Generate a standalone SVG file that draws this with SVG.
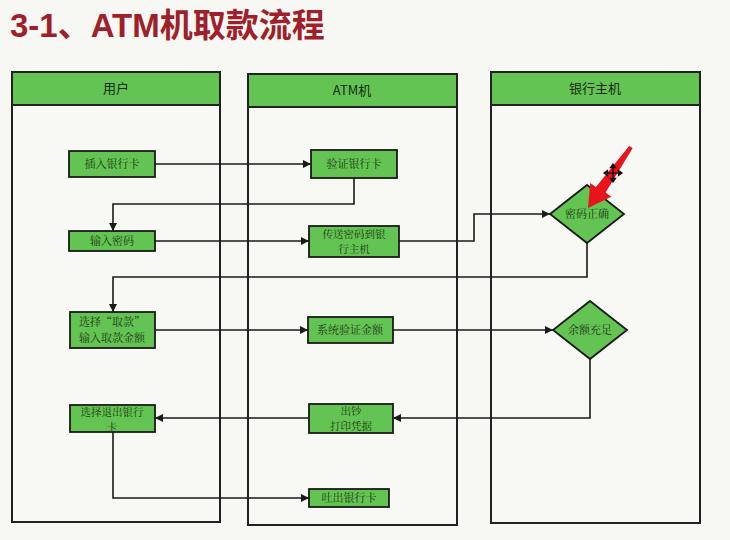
<svg xmlns="http://www.w3.org/2000/svg" width="730" height="540" viewBox="0 0 730 540">
<style>
.lane{fill:#f8f8f5;stroke:#222;stroke-width:2}
.hdr{fill:#63c353;stroke:#222;stroke-width:2}
.box{fill:#63c353;stroke:#1a1a1a;stroke-width:1.8}
.ht{font-family:"Noto Sans CJK SC","Liberation Sans",sans-serif;font-size:13px;fill:#1a2a14;text-anchor:middle}
.nt{font-family:"Noto Serif CJK SC","Noto Sans CJK SC",serif;font-size:11px;fill:#1d3a12;text-anchor:middle}
.nt2{font-family:"Noto Serif CJK SC","Noto Sans CJK SC",serif;font-size:10.5px;fill:#1d3a12;text-anchor:middle}
.c{fill:none;stroke:#1a1a1a;stroke-width:1.6}
</style>
<defs>
<marker id="ar" viewBox="0 0 10 10" refX="10" refY="5" markerWidth="8" markerHeight="8" markerUnits="userSpaceOnUse" orient="auto">
<path d="M0,0 L10,5 L0,10 z" fill="#1a1a1a"/>
</marker>
</defs>
<rect width="730" height="540" fill="#f7f7f4"/>
<text x="10" y="37" font-family="'Liberation Sans','Noto Sans CJK SC',sans-serif" font-weight="bold" font-size="33" fill="#a01f2a">3-1、ATM机取款流程</text>

<g id="lane-user">
<rect class="lane" x="12" y="72" width="208" height="450"/>
<rect class="hdr" x="12" y="72" width="208" height="33"/>
<text class="ht" x="116" y="93">用户</text>
</g>
<g id="lane-atm">
<rect class="lane" x="248" y="74" width="209" height="451"/>
<rect class="hdr" x="248" y="74" width="209" height="33"/>
<text class="ht" x="352" y="95">ATM机</text>
</g>
<g id="lane-bank">
<rect class="lane" x="491" y="72" width="209" height="451"/>
<rect class="hdr" x="491" y="72" width="209" height="33"/>
<text class="ht" x="595" y="93">银行主机</text>
</g>

<g id="connectors">
<path class="c" d="M155,164 H311" marker-end="url(#ar)"/>
<path class="c" d="M354,178 V204 H113 V231" marker-end="url(#ar)"/>
<path class="c" d="M155,241 H309" marker-end="url(#ar)"/>
<path class="c" d="M399,241 H474 V214 H550" marker-end="url(#ar)"/>
<path class="c" d="M587,243 V277 H113 V312" marker-end="url(#ar)"/>
<path class="c" d="M155,330 H308" marker-end="url(#ar)"/>
<path class="c" d="M393,330 H553" marker-end="url(#ar)"/>
<path class="c" d="M590,359 V418 H393" marker-end="url(#ar)"/>
<path class="c" d="M309,418 H155" marker-end="url(#ar)"/>
<path class="c" d="M113,432 V498 H309" marker-end="url(#ar)"/>
</g>

<g id="n-insert">
<rect class="box" x="69" y="151" width="86" height="26"/>
<text class="nt" x="112" y="168">插入银行卡</text>
</g>
<g id="n-verify-card">
<rect class="box" x="311" y="150" width="86" height="28"/>
<text class="nt" x="354" y="168">验证银行卡</text>
</g>
<g id="n-input-pwd">
<rect class="box" x="69" y="231" width="86" height="20"/>
<text class="nt" x="112" y="245">输入密码</text>
</g>
<g id="n-send-pwd">
<rect class="box" x="309" y="226" width="90" height="31"/>
<text class="nt2" x="354" y="238">传送密码到银</text>
<text class="nt2" x="354" y="252.5">行主机</text>
</g>
<g id="n-pwd-ok">
<polygon class="box" points="587,185 624,214 587,243 550,214"/>
<text class="nt" x="587" y="218">密码正确</text>
</g>
<g id="n-select">
<rect class="box" x="70" y="312" width="85" height="36"/>
<text class="nt" x="112" y="326">选择“取款”</text>
<text class="nt" x="112" y="342">输入取款金额</text>
</g>
<g id="n-verify-amt">
<rect class="box" x="308" y="317" width="85" height="26"/>
<text class="nt" x="350" y="334">系统验证金额</text>
</g>
<g id="n-balance">
<polygon class="box" points="590,301 627,330 590,359 553,330"/>
<text class="nt" x="590" y="334">余额充足</text>
</g>
<g id="n-dispense">
<rect class="box" x="309" y="404" width="84" height="29"/>
<text class="nt2" x="351" y="415">出钞</text>
<text class="nt2" x="351" y="429.5">打印凭据</text>
</g>
<g id="n-exit">
<rect class="box" x="70" y="405" width="85" height="27"/>
<text class="nt2" x="112" y="416">选择退出银行</text>
<text class="nt2" x="112" y="430.5">卡</text>
</g>
<g id="n-eject">
<rect class="box" x="309" y="489" width="80" height="18"/>
<text class="nt" x="349" y="502">吐出银行卡</text>
</g>

<g id="annotation">
<polygon fill="#e8141c" points="588,208 611.3,196.7 605.6,192.6 632.6,148.2 629.4,145.8 595.9,187.1 590.2,183.0"/>
<g stroke="#111" stroke-width="1.3" fill="#111">
<line x1="613" y1="166" x2="613" y2="180"/>
<line x1="606" y1="173" x2="620" y2="173"/>
<polygon points="613,164 610.5,167.5 615.5,167.5"/>
<polygon points="613,182 610.5,178.5 615.5,178.5"/>
<polygon points="604,173 607.5,170.5 607.5,175.5"/>
<polygon points="622,173 618.5,170.5 618.5,175.5"/>
</g>
</g>
</svg>
